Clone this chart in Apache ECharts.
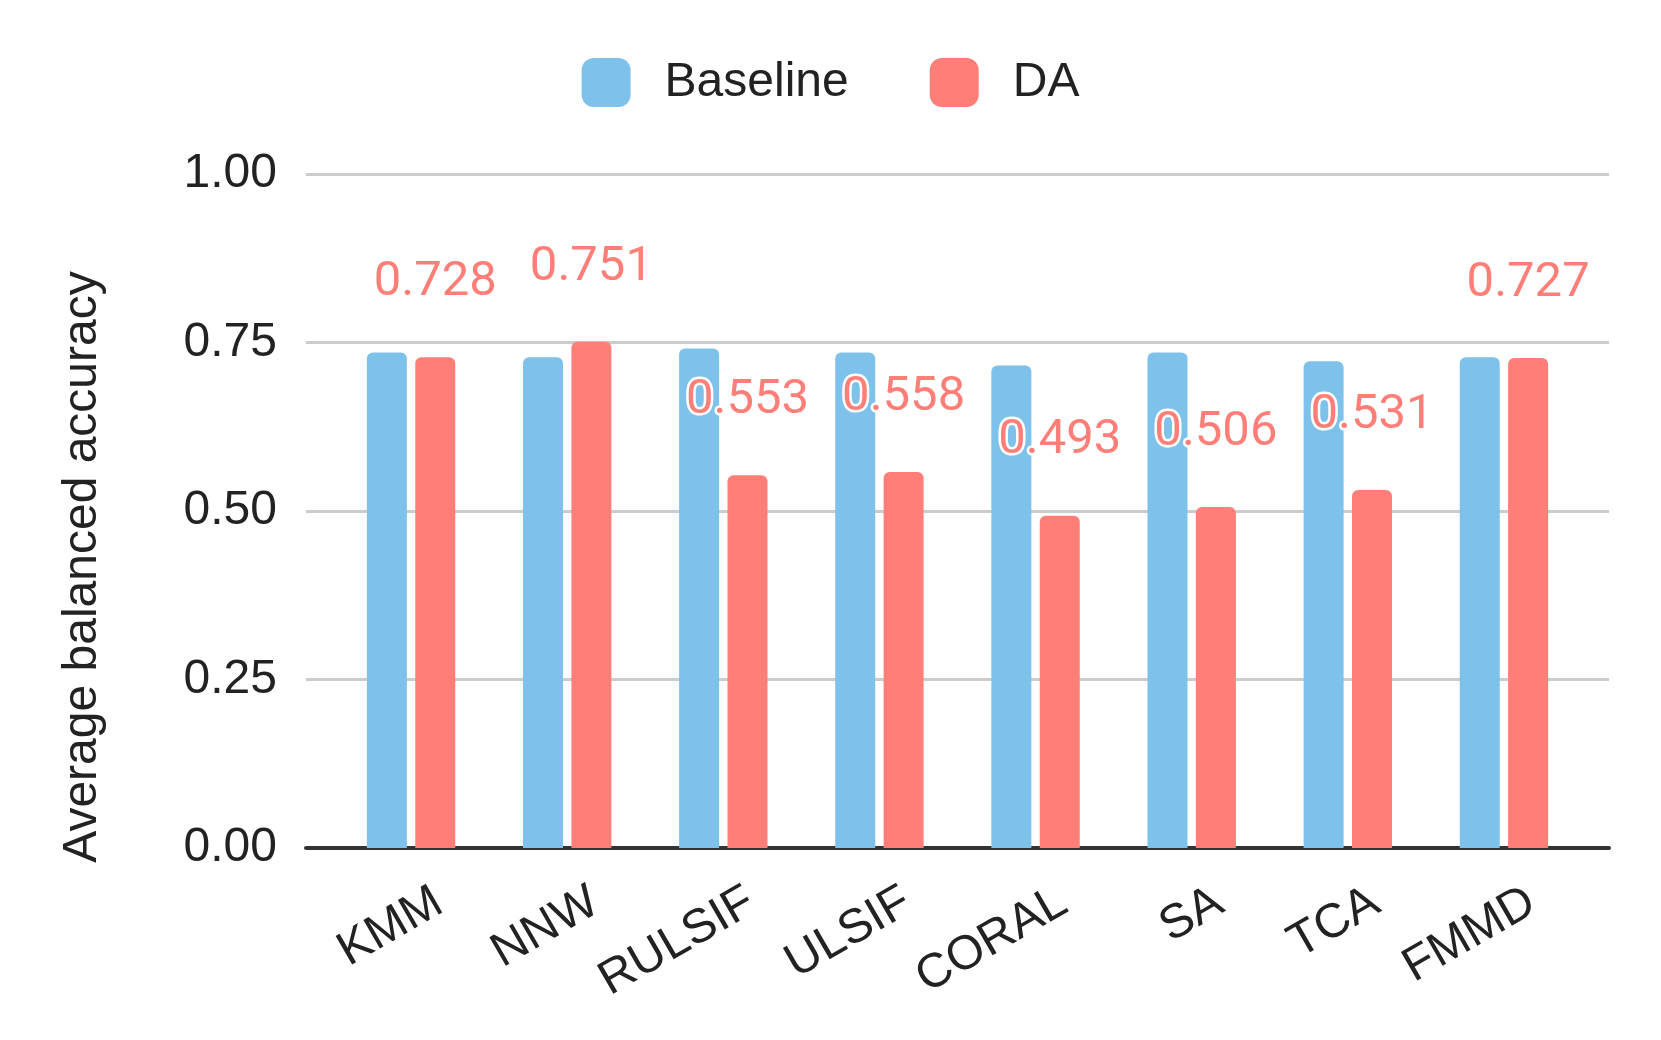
<!DOCTYPE html>
<html>
<head>
<meta charset="utf-8">
<script src="https://cdn.jsdelivr.net/npm/echarts@6/dist/echarts.min.js"></script>
<style>
html,body{margin:0;padding:0;background:#fff;}
#chart{width:1661px;height:1040px;}
</style>
</head>
<body>
<div id="chart"></div>
<script>
const categories = ['KMM', 'NNW', 'RULSIF', 'ULSIF', 'CORAL', 'SA', 'TCA', 'FMMD'];
const baselineValues = [0.735, 0.728, 0.741, 0.735, 0.716, 0.735, 0.722, 0.728];
const daValues = [0.728, 0.751, 0.553, 0.558, 0.493, 0.506, 0.531, 0.727];
const yTicks = [0, 0.25, 0.5, 0.75, 1.0];

const BLUE = '#7ec1ea';
const RED = '#ff7e78';
const TEXT = '#222222';
const SANS = '"Liberation Sans", Arial, sans-serif';

const chart = echarts.init(document.getElementById('chart'));
const gTop = 174, gBottom = 1040 - 848;

chart.setOption({
  backgroundColor: '#ffffff',
  animation: false,
  legend: {
    top: 53,
    left: 'center',
    itemWidth: 49,
    itemHeight: 49,
    itemGap: 81,
    icon: 'roundRect',
    textStyle: { fontSize: 48, fontFamily: SANS, color: TEXT, padding: [0, 0, 0, 29] },
    data: ['Baseline', 'DA']
  },
  graphic: [{
    type: 'text',
    x: 83, y: 567,
    rotation: Math.PI / 2,
    style: {
      text: 'Average balanced accuracy',
      fontSize: 48, fontFamily: SANS, fill: TEXT,
      textAlign: 'center', textVerticalAlign: 'middle'
    }
  }],
  grid: [
    { left: 306, right: 52, top: gTop, bottom: gBottom },
    { left: 333, right: 79, top: gTop, bottom: gBottom },
    { left: 361, right: 51, top: gTop, bottom: gBottom }
  ],
  xAxis: [
    { gridIndex: 0, type: 'value', min: 0, max: 1,
      axisLine: { show: true, lineStyle: { color: '#333333', width: 4 } },
      axisTick: { show: false }, axisLabel: { show: false }, splitLine: { show: false } },
    { gridIndex: 1, type: 'category', data: categories,
      axisLine: { show: false }, axisTick: { show: false }, axisLabel: { show: false }, splitLine: { show: false } },
    { gridIndex: 2, type: 'category', data: categories,
      axisLine: { show: false }, axisTick: { show: false }, splitLine: { show: false },
      axisLabel: { show: true, rotate: 30, margin: 51, interval: 0, fontSize: 48, fontFamily: SANS, color: TEXT } }
  ],
  yAxis: [
    { gridIndex: 0, type: 'value', min: 0, max: 1, interval: 0.25,
      axisLine: { show: false }, axisTick: { show: false },
      axisLabel: { fontSize: 48, fontFamily: SANS, color: TEXT, margin: 29,
        formatter: v => v.toFixed(2) },
      splitLine: { show: true, lineStyle: { color: '#cccccc', width: 3 } } },
    { gridIndex: 1, type: 'value', min: 0, max: 1, show: false, splitLine: { show: false } },
    { gridIndex: 2, type: 'value', min: 0, max: 1, show: false, splitLine: { show: false } }
  ],
  series: [
    { name: 'Baseline', type: 'bar', xAxisIndex: 1, yAxisIndex: 1,
      data: baselineValues, barWidth: 40, barGap: '21%',
      itemStyle: { color: BLUE, borderRadius: [6, 6, 0, 0] } },
    { name: 'DA', type: 'bar', xAxisIndex: 1, yAxisIndex: 1,
      data: daValues, barWidth: 40, barGap: '21%',
      itemStyle: { color: RED, borderRadius: [6, 6, 0, 0] },
      label: { show: true, position: 'top', distance: 50,
        formatter: p => p.value.toFixed(3),
        fontSize: 49, fontFamily: 'Roboto', color: RED,
        textBorderColor: '#ffffff', textBorderWidth: 5 } }
  ]
});
</script>
</body>
</html>
